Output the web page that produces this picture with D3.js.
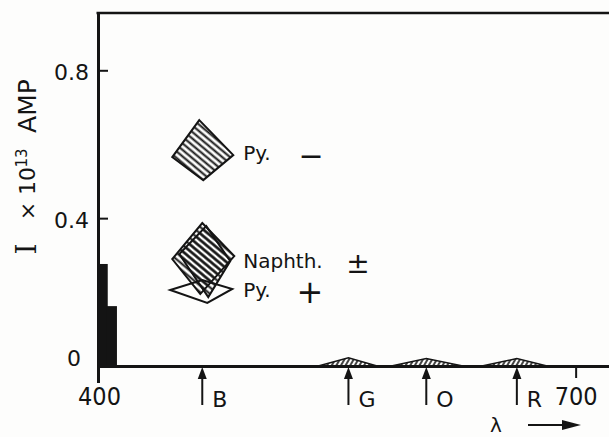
<!DOCTYPE html>
<html>
<head>
<meta charset="utf-8">
<script src="https://cdn.jsdelivr.net/npm/d3@7/dist/d3.min.js"></script>
<style>
  body { margin: 0; background: #fdfdfc; }
  svg { display: block; }
  text { fill: #141414; font-family: "DejaVu Sans", sans-serif; }
  .cond { font-stretch: condensed; }
</style>
</head>
<body>
<div id="chart"></div>
<script>
// black bars at the violet end
const barStarts = [400, 405.5];
const barEnds = [405.5, 411.3];
const barValues = [0.276, 0.162];

// small hatched bands near the axis
const bandStart = [538, 584, 641];
const bandPeak = [557, 606, 663];
const bandEnd = [575, 629, 682];
const bandHeight = [0.022, 0.02, 0.02];

// arrows under the axis
const markerLabels = ['B', 'G', 'O', 'R'];
const markerWl = [465, 557, 606, 663];

// diamond glyphs (all drawn at the B wavelength)
const glyphNames = ['Py.', 'Naphth.', 'Py.'];
const glyphSigns = ['\u2212', '\u00b1', '+'];
const glyphWl = [465, 465, 465];
const glyphValues = [0.584, 0.292, 0.203];

const yTicks = [0, 0.4, 0.8];
const yTickLabels = ['0', '0.4', '0.8'];
const xTicks = [400, 700];

const W = 609, H = 437;
const ink = '#141414';

const svg = d3.select('#chart').append('svg')
  .attr('width', W)
  .attr('height', H);

const x = d3.scaleLinear().domain([400, 721]).range([99, 609]);
const y = d3.scaleLinear().domain([0, 0.955]).range([366, 13]);

const defs = svg.append('defs');
defs.append('pattern')
  .attr('id', 'hatch')
  .attr('patternUnits', 'userSpaceOnUse')
  .attr('width', 10).attr('height', 5)
  .attr('patternTransform', 'rotate(40)')
  .append('line')
  .attr('x1', 0).attr('x2', 10).attr('y1', 2.5).attr('y2', 2.5)
  .attr('stroke', ink).attr('stroke-width', 2);
defs.append('pattern')
  .attr('id', 'hatch2')
  .attr('patternUnits', 'userSpaceOnUse')
  .attr('width', 8).attr('height', 4)
  .attr('patternTransform', 'rotate(-60)')
  .append('line')
  .attr('x1', 0).attr('x2', 8).attr('y1', 2).attr('y2', 2)
  .attr('stroke', ink).attr('stroke-width', 1.6);

// black bars
svg.selectAll('.bar')
  .data(barValues)
  .enter().append('rect')
  .attr('class', 'bar')
  .attr('x', (d, i) => x(barStarts[i]) - 1)
  .attr('width', (d, i) => x(barEnds[i]) - x(barStarts[i]) + 1)
  .attr('y', d => y(d))
  .attr('height', d => y(0) - y(d))
  .attr('fill', ink);

// hatched bands
const area = d3.area()
  .x(d => x(d[0]))
  .y0(y(0))
  .y1(d => y(d[1]));
svg.selectAll('.band')
  .data(bandHeight)
  .enter().append('path')
  .attr('class', 'band')
  .attr('d', (d, i) => area([[bandStart[i], 0], [bandPeak[i], d], [bandEnd[i], 0]]))
  .attr('fill', 'url(#hatch2)')
  .attr('stroke', ink)
  .attr('stroke-width', 1.5);

// axes
const xAxis = svg.append('g')
  .attr('transform', `translate(0, ${y(0)})`)
  .call(d3.axisBottom(x).tickValues(xTicks).tickSize(16).tickSizeOuter(0).tickFormat(d3.format('d')));
xAxis.select('.domain').attr('stroke', ink).attr('stroke-width', 3);
xAxis.selectAll('.tick line').attr('stroke', ink).attr('stroke-width', 2);
xAxis.selectAll('.tick text')
  .attr('class', 'cond')
  .attr('y', 21)
  .attr('dy', '0.71em')
  .style('font-size', '25px')
  .style('fill', ink);
xAxis.selectAll('.tick').filter(d => d === 400).select('line')
  .attr('stroke-width', 3).attr('x1', -1).attr('x2', -1).attr('y2', 17);
xAxis.selectAll('.tick').filter(d => d === 700).select('line').attr('y2', 12);

const yAxis = svg.append('g')
  .attr('transform', `translate(${x(400) - 1}, 0)`)
  .call(d3.axisLeft(y).tickValues(yTicks).tickSize(-10).tickSizeOuter(0)
    .tickFormat((d, i) => yTickLabels[i]));
yAxis.select('.domain').attr('stroke', ink).attr('stroke-width', 3);
yAxis.selectAll('.tick line').attr('stroke', ink).attr('stroke-width', 2)
  .filter(d => d === 0).remove();
yAxis.selectAll('.tick text')
  .attr('x', d => d === 0 ? -17 : -9)
  .attr('dy', d => d === 0 ? '-0.02em' : '0.42em')
  .style('font-size', '22px')
  .style('fill', ink);

// top frame line
svg.append('line')
  .attr('x1', x(400) - 2.5).attr('x2', W)
  .attr('y1', y(0.955)).attr('y2', y(0.955))
  .attr('stroke', ink).attr('stroke-width', 2.5);

// arrows with colour letters
const marks = svg.selectAll('.marker')
  .data(markerWl)
  .enter().append('g')
  .attr('class', 'marker')
  .attr('transform', d => `translate(${x(d)}, ${y(0)})`);
marks.append('line')
  .attr('x1', 0).attr('x2', 0).attr('y1', 8).attr('y2', 39)
  .attr('stroke', ink).attr('stroke-width', 2);
marks.append('path')
  .attr('d', 'M0,1 L-4.5,13 L4.5,13 Z')
  .attr('fill', ink);
marks.append('text')
  .attr('x', 10).attr('y', 41)
  .style('font-size', '22px')
  .text((d, i) => markerLabels[i]);

// diamond glyphs
const shapes = [
  [[[-3, -30], [31, 5], [1, 30], [-30, 7]]],
  [[[0, -35], [32, -2], [-2, 36], [-30, 1]], [[4, -32], [28, 3], [6, 39], [-23, -4]]],
  [[[-32, -1], [0, -11], [30, -2], [5, 12]]]
];
const glyphFill = ['url(#hatch)', 'url(#hatch)', '#fdfdfc'];
const poly = pts => 'M' + pts.map(p => p.join(',')).join('L') + 'Z';
const glyphOrder = [2, 0, 1];
glyphOrder.forEach(i => {
  const g = svg.append('g')
    .attr('transform', `translate(${x(glyphWl[i])}, ${y(glyphValues[i])})`);
  shapes[i].forEach(pts => {
    g.append('path')
      .attr('d', poly(pts))
      .attr('fill', glyphFill[i])
      .attr('stroke', ink)
      .attr('stroke-width', 2);
  });
});

const labelDy = [10, 10, 6];
const signX = [311, 358, 310];
const signSize = [30, 28, 32];
glyphNames.forEach((name, i) => {
  svg.append('text')
    .attr('x', x(glyphWl[i]) + 41)
    .attr('y', y(glyphValues[i]) + labelDy[i])
    .style('font-size', '20px')
    .text(name);
  svg.append('text')
    .attr('x', signX[i])
    .attr('y', y(glyphValues[i]) + labelDy[i] - 5)
    .attr('text-anchor', 'middle')
    .attr('dy', '0.35em')
    .style('font-size', signSize[i] + 'px')
    .text(glyphSigns[i]);
});

// y axis title
const titleParts = [
  { t: 'I', cy: 249, size: 28, base: 36, serif: true },
  { t: '\u00d7', cy: 211, size: 22, base: 35 },
  { t: '10', cy: 181, size: 22, base: 35 },
  { t: '13', cy: 158, size: 15, base: 27 },
  { t: 'AMP', cy: 106, size: 25, base: 36 }
];
titleParts.forEach(p => {
  svg.append('text')
    .attr('transform', `translate(${p.base}, ${p.cy}) rotate(-90)`)
    .attr('text-anchor', 'middle')
    .style('font-size', p.size + 'px')
    .style('font-family', p.serif ? '"DejaVu Serif", serif' : null)
    .text(p.t);
});

// lambda with arrow
svg.append('text')
  .attr('x', 496).attr('y', 432)
  .attr('text-anchor', 'middle')
  .style('font-size', '20px')
  .text('\u03bb');
svg.append('line')
  .attr('x1', 528).attr('x2', 566).attr('y1', 425).attr('y2', 425)
  .attr('stroke', ink).attr('stroke-width', 2);
svg.append('path')
  .attr('d', 'M581,425 L562,420 L562,430 Z')
  .attr('fill', ink);
</script>
</body>
</html>
